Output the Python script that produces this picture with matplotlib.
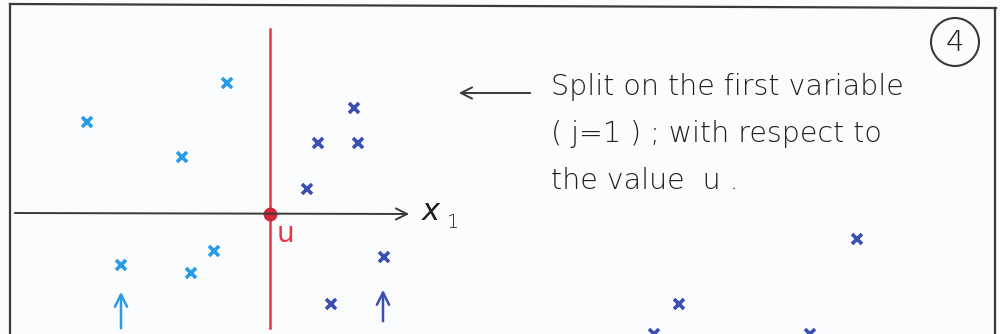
import matplotlib.pyplot as plt

# left group (light blue) and right group (dark blue), sheet coordinates
left_x = [227, 87, 182, 214, 121, 191]
left_y = [83, 122, 157, 251, 265, 273]
right_x = [354, 318, 358, 307, 384, 331, 857, 679, 654, 810]
right_y = [108, 143, 143, 189, 257, 304, 239, 304, 334, 334]

split_u = 270
axis_y = 214
note_lines = ["Split on the first variable",
              "( j=1 ) ; with respect to",
              "the value  u ."]

light = "#2a9be8"
dark = "#3b4fb2"
red = "#ec3340"
ink = "#3a3a3a"
pen = "#1e1e1e"
hand = dict(family="DejaVu Sans", fontweight="light")

fig = plt.figure(figsize=(10, 3.34), dpi=100)
fig.patch.set_facecolor("#fbfcfd")
ax = fig.add_axes([0, 0, 1, 1])
ax.set_xlim(0, 1000)
ax.set_ylim(334, 0)
ax.axis("off")

# frame of the sheet
ax.plot([10, 10], [334, 4], color=ink, lw=1.6)
ax.plot([10, 996], [4, 8], color=ink, lw=1.6)
ax.plot([995, 995], [8, 334], color=ink, lw=1.6)

# x1 axis
ax.annotate("", xy=(412, axis_y), xytext=(12, axis_y - 1),
            arrowprops=dict(arrowstyle="->", color=ink, lw=1.4, mutation_scale=20))
ax.text(422, 212, "x", fontsize=22, color=pen, va="center", ha="left",
        style="italic", **hand)
ax.text(447, 222, "1", fontsize=14, color=pen, va="center", ha="left", **hand)

# split line at u
ax.plot([split_u, split_u], [29, 328], color=red, lw=1.8)
ax.plot(split_u, axis_y, "o", color="#d0283a", ms=9)
ax.text(277, 234, "u", fontsize=20, color=red, va="center", ha="left",
        family="DejaVu Sans")

ax.plot(left_x, left_y, "x", color=light, ms=7, mew=2.6)
ax.plot(right_x, right_y, "x", color=dark, ms=7, mew=2.6)

# arrows under each group
ax.annotate("", xy=(121, 289), xytext=(121, 331),
            arrowprops=dict(arrowstyle="->", color=light, lw=1.8, mutation_scale=22))
ax.annotate("", xy=(383, 287), xytext=(383, 324),
            arrowprops=dict(arrowstyle="->", color=dark, lw=1.8, mutation_scale=22))

# note on the right
ax.annotate("", xy=(456, 93), xytext=(533, 93),
            arrowprops=dict(arrowstyle="->", color=ink, lw=1.4, mutation_scale=20))
for i, line in enumerate(note_lines):
    ax.text(551, 95 + 47 * i, line, fontsize=20.5, color=pen, ha="left",
            va="baseline", **hand)

# circled page number
ax.add_patch(plt.Circle((955, 42), 24, fill=False, color=ink, lw=1.5))
ax.text(955, 43, "4", fontsize=21, color=pen, ha="center", va="center", **hand)

fig.savefig("out.png", dpi=100, facecolor=fig.get_facecolor())
